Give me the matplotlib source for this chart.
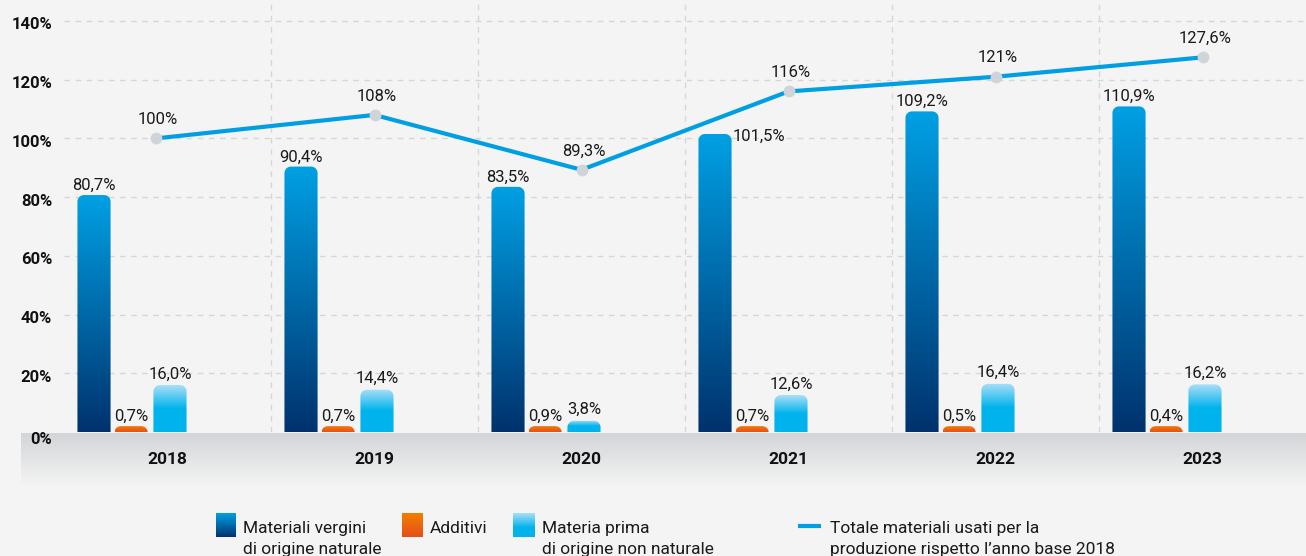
import numpy as np
import matplotlib
matplotlib.use("Agg")
import matplotlib.pyplot as plt
from matplotlib.path import Path
from matplotlib.patches import PathPatch
from matplotlib.colors import to_rgb
from matplotlib.transforms import ScaledTranslation

# ---------------- data ----------------
years = ["2018", "2019", "2020", "2021", "2022", "2023"]
virgin = [80.7, 90.4, 83.5, 101.5, 109.2, 110.9]       # Materiali vergini di origine naturale
additives = [0.7, 0.7, 0.9, 0.7, 0.5, 0.4]             # Additivi
secondary = [16.0, 14.4, 3.8, 12.6, 16.4, 16.2]        # Materia prima di origine non naturale
total = [100, 108, 89.3, 116, 121, 127.6]              # Totale materiali (2018 = 100)
y_ticks = [0, 20, 40, 60, 80, 100, 120, 140]

# ---------------- style ----------------
BG = "#f4f4f4"
GRID = "#d6d6d6"
LINE = "#009fe3"
MARKER = "#d0d3d8"
DARK = ("#00a0e4", "#00326d")
ORANGE = ("#f27e00", "#e54f1c")
LIGHT = ("#abdff8", "#00b3ec")
TXT = "#1a1a1a"

plt.rcParams["font.family"] = ["Roboto", "DejaVu Sans"]

W, H = 1306, 556
fig = plt.figure(figsize=(W / 100, H / 100), dpi=100, facecolor=BG)

# overlay axes in pixel coordinates (band + legend)
over = fig.add_axes([0, 0, 1, 1], zorder=0)
over.set_facecolor(BG)


def grad_array(top, bottom, n=256, hold=None):
    t = np.linspace(0, 1, n)
    if hold is not None:
        t = np.clip(t / hold, 0, 1)
    c0, c1 = np.array(to_rgb(top)), np.array(to_rgb(bottom))
    arr = c0[None, :] * (1 - t[:, None]) + c1[None, :] * t[:, None]
    return arr[:, None, :]


# bottom gray band
over.imshow(grad_array("#d3d5d8", BG), extent=[21, W, 486, 433], origin="upper",
            aspect="auto", interpolation="bilinear", zorder=0)

# main axes
ax = fig.add_axes([64 / W, (H - 432) / H, (W - 64) / W, 432 / H], zorder=1)
ax.patch.set_alpha(0)
YMAX = 432 / 2.936
PX_X = (W - 64) / 6.0       # pixels per category slot
PX_Y = 2.936                # pixels per percent

bar_offsets = [0.145, 0.324, 0.512]
bar_w = 0.16
line_offsets = [0.445, 0.5, 0.5, 0.5, 0.5, 0.5]


def rounded_top_path(x0, x1, y0, y1, rx, ry):
    ry = min(ry, (y1 - y0))
    verts = [(x0, y0), (x0, y1 - ry)]
    for t in np.linspace(np.pi, np.pi / 2, 12):
        verts.append((x0 + rx + rx * np.cos(t), y1 - ry + ry * np.sin(t)))
    for t in np.linspace(np.pi / 2, 0, 12):
        verts.append((x1 - rx + rx * np.cos(t), y1 - ry + ry * np.sin(t)))
    verts += [(x1, y0), (x0, y0)]
    codes = [Path.MOVETO] + [Path.LINETO] * (len(verts) - 2) + [Path.CLOSEPOLY]
    return Path(verts, codes)


def grad_bar(axx, xc, w, h, colors, hold=None, rpx=6.5):
    x0, x1 = xc - w / 2, xc + w / 2
    img = axx.imshow(grad_array(colors[0], colors[1], hold=hold), extent=[x0, x1, 0, h],
                     origin="upper", aspect="auto", interpolation="bilinear", zorder=2)
    path = rounded_top_path(x0, x1, 0, h, rpx / PX_X, rpx / PX_Y)
    patch = PathPatch(path, transform=axx.transData, facecolor="none", edgecolor="none")
    img.set_clip_path(patch)


def fmt_bar(v):
    return f"{v:.1f}".replace(".", ",") + "%"


def fmt_total(v):
    if float(v).is_integer():
        return f"{v:.0f}%"
    return f"{v:.1f}".replace(".", ",") + "%"


FS = 12
min_h = 2.0
for i in range(len(years)):
    xd = i + bar_offsets[0]
    xo = i + bar_offsets[1]
    xl = i + bar_offsets[2]
    grad_bar(ax, xd, bar_w, virgin[i], DARK)
    grad_bar(ax, xo, bar_w, max(additives[i], min_h), ORANGE)
    grad_bar(ax, xl, bar_w, secondary[i], LIGHT, hold=0.5)

    if i == 3:
        ax.annotate(fmt_bar(virgin[i]), (xd + bar_w / 2, virgin[i]), xytext=(1.0, -1.5),
                    textcoords="offset points", ha="left", va="center", fontsize=FS,
                    color=TXT, zorder=6)
    else:
        ax.annotate(fmt_bar(virgin[i]), (xd, virgin[i]), xytext=(0, 7),
                    textcoords="offset points", ha="center", va="center", fontsize=FS,
                    color=TXT, zorder=6)
    ax.annotate(fmt_bar(additives[i]), (xo, max(additives[i], min_h)), xytext=(0, 7),
                textcoords="offset points", ha="center", va="center", fontsize=FS,
                color=TXT, zorder=6)
    ax.annotate(fmt_bar(secondary[i]), (xl, secondary[i]), xytext=(0, 8),
                textcoords="offset points", ha="center", va="center", fontsize=FS,
                color=TXT, zorder=6)

# line
xs = [i + line_offsets[i] for i in range(len(years))]
ax.plot(xs, total, color=LINE, lw=3, zorder=4, solid_capstyle="round")
ax.plot(xs, total, "o", ms=8.5, color=MARKER, mec="none", zorder=5)
for x, v in zip(xs, total):
    ax.annotate(fmt_total(v), (x, v), xytext=(1.5, 13.5), textcoords="offset points",
                ha="center", va="center", fontsize=FS, color=TXT, zorder=6)

# grid
for y in y_ticks[1:]:
    ax.axhline(y, color=GRID, lw=1, ls=(0, (4, 4)), zorder=0.5)
for i in range(1, len(years)):
    ax.axvline(i, color=GRID, lw=1, ls=(0, (4, 4)), zorder=0.5)

ax.set_xlim(0, len(years))
ax.set_ylim(0, YMAX)
for s in ax.spines.values():
    s.set_visible(False)
ax.set_xticks([])
ax.set_yticks(y_ticks)
ax.set_yticklabels([f"{v}%" for v in y_ticks], fontsize=12, fontweight="bold", color="#111111")
ax.tick_params(axis="y", length=0, pad=8.5)
for lab, v in zip(ax.get_yticklabels(), y_ticks):
    dy = -6 if v == 0 else -2.5
    lab.set_transform(lab.get_transform() + ScaledTranslation(0, dy / 100, fig.dpi_scale_trans))

# year labels
for i, yr in enumerate(years):
    ax.text(i + 0.5, -28 / 432, yr, transform=ax.get_xaxis_transform(), ha="center",
            va="center", fontsize=12.5, fontweight="bold", color="#111111", clip_on=False)

# legend (pixel coordinates)
leg_sq = [(216, 236, DARK, None), (402, 423, ORANGE, None), (513, 535, LIGHT, 0.6)]
for x0, x1, cols, hold in leg_sq:
    over.imshow(grad_array(cols[0], cols[1], hold=hold), extent=[x0, x1, 537, 513],
                origin="upper", aspect="auto", interpolation="bilinear", zorder=2)
over.plot([798, 821], [526, 526], color=LINE, lw=3, solid_capstyle="butt", zorder=2)

leg_txt = [
    (243, "Materiali vergini", "di origine naturale"),
    (430, "Additivi", None),
    (542, "Materia prima", "di origine non naturale"),
    (830, "Totale materiali usati per la", "produzione rispetto l\u2019anno base 2018"),
]
for x, l1, l2 in leg_txt:
    over.text(x, 533, l1, fontsize=12.5, va="baseline", ha="left", color=TXT, zorder=3)
    if l2:
        over.text(x, 554, l2, fontsize=12.5, va="baseline", ha="left", color=TXT, zorder=3)

over.set_xlim(0, W)
over.set_ylim(H, 0)
over.axis("off")

fig.savefig("out.png", dpi=100, facecolor=BG)
